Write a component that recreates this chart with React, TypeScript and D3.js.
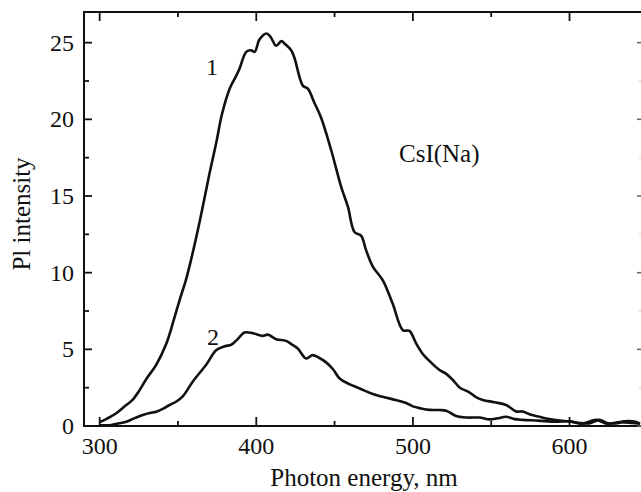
import React from 'react'
import { scaleLinear, line, curveCatmullRom } from 'd3'

// spectrum 1
const wave1 = [300, 305, 310.6, 317, 321, 325.5, 330, 336, 342.6, 347, 351, 355, 358.5, 364, 370, 374.5, 378, 383, 387, 389.3, 393.6, 396.8, 399, 402, 406.5, 409, 412.7, 416, 418.5, 422.3, 424.4, 429.7, 432.9, 437, 441.4, 447.8, 454.2, 458.5, 462.7, 467, 470, 474.4, 480.8, 487, 493.6, 497.8, 502, 506.3, 511, 517, 521.3, 525.5, 530, 536, 540, 544.6, 552, 559.5, 565.9, 570, 575, 580.8, 587, 593.6, 600, 606, 612.7, 619, 624, 629.7, 635, 642, 645]
const intensity1 = [0.25, 0.5, 0.83, 1.37, 1.7, 2.34, 3.1, 3.97, 5.38, 6.8, 8.2, 9.5, 10.9, 13.4, 16.4, 18.5, 20.3, 22.0, 22.8, 23.3, 24.4, 24.5, 24.4, 25.2, 25.6, 25.4, 24.8, 25.1, 24.9, 24.5, 24.0, 22.2, 22.0, 21.1, 20.1, 18.0, 15.6, 14.3, 12.65, 12.4, 11.5, 10.4, 9.5, 8.0, 6.25, 6.2, 5.4, 4.7, 4.2, 3.65, 3.4, 3.0, 2.5, 2.2, 1.9, 1.7, 1.55, 1.37, 0.95, 0.95, 0.75, 0.6, 0.45, 0.35, 0.3, 0.2, 0.17, 0.4, 0.2, 0.17, 0.3, 0.28, 0.15]

// spectrum 2
const wave2 = [300, 306, 311, 317, 322, 327.6, 332, 336.2, 341, 344.7, 349, 353.2, 359.5, 368, 374.5, 380, 384, 387.5, 392.5, 397.8, 404, 407.4, 412.7, 419, 423, 426.5, 431.9, 436, 440, 444.6, 449, 453.2, 459, 466, 474, 480.8, 489, 495.7, 500, 505, 510.6, 517, 521.3, 527.6, 535, 542.5, 548.9, 554, 559.5, 565, 570, 580, 591, 600, 608, 617, 624, 632, 640, 645]
const intensity2 = [0.05, 0.05, 0.15, 0.28, 0.5, 0.72, 0.85, 0.93, 1.15, 1.37, 1.6, 1.95, 2.9, 4.0, 4.95, 5.2, 5.3, 5.6, 6.1, 6.05, 5.88, 5.96, 5.66, 5.55, 5.3, 5.05, 4.4, 4.62, 4.45, 4.15, 3.7, 3.1, 2.75, 2.45, 2.1, 1.9, 1.7, 1.5, 1.28, 1.15, 1.05, 1.04, 1.0, 0.65, 0.55, 0.55, 0.43, 0.5, 0.6, 0.45, 0.4, 0.35, 0.28, 0.3, 0.15, 0.4, 0.15, 0.25, 0.2, 0.15]

const xMajor = [300, 400, 500, 600]
const xMinor = [350, 450, 550]
const yMajor = [0, 5, 10, 15, 20, 25]
const yMinor = [2.5, 7.5, 12.5, 17.5, 22.5]

const font = '"Liberation Serif", "Times New Roman", serif'

const App = () => {
  const width = 641
  const height = 492
  const left = 84
  const right = 640
  const top = 12
  const bottom = 426

  const x = scaleLinear().domain([290, 645]).range([left, right])
  const y = scaleLinear().domain([0, 27]).range([bottom, top])

  const lineGen = line<number>()
    .x(d => x(d))
    .curve(curveCatmullRom)

  const path1 = lineGen.y((_, i) => y(intensity1[i]))(wave1)
  const path2 = lineGen.y((_, i) => y(intensity2[i]))(wave2)

  return (
    <svg width={width} height={height} style={{ position: 'absolute', left: 0, top: 0, background: '#fff' }} fontFamily={font}>
      <defs>
        <clipPath id='plot'>
          <rect x={left} y={top} width={width - left} height={bottom - top} />
        </clipPath>
      </defs>

      <g clipPath='url(#plot)'>
        <path d={path1 || ''} fill='none' stroke='#111' strokeWidth={2.6} strokeLinejoin='round' />
        <path d={path2 || ''} fill='none' stroke='#111' strokeWidth={2.6} strokeLinejoin='round' />
      </g>

      {/* frame */}
      <line x1={left} x2={left} y1={top - 1} y2={bottom + 1} stroke='#111' strokeWidth={2} />
      <line x1={left - 1} x2={width} y1={bottom} y2={bottom} stroke='#111' strokeWidth={2} />
      <line x1={left - 1} x2={width} y1={top} y2={top} stroke='#111' strokeWidth={2} />

      {xMajor.map(t => (
        <g key={t} transform={`translate(${x(t)},0)`}>
          <line y1={bottom} y2={bottom - 9} stroke='#111' strokeWidth={1.8} />
          <line y1={top} y2={top + 9} stroke='#111' strokeWidth={1.8} />
          <text y={454} textAnchor='middle' fontSize={24} fill='#111'>{t}</text>
        </g>
      ))}
      {xMinor.map(t => (
        <g key={t} transform={`translate(${x(t)},0)`}>
          <line y1={bottom} y2={bottom - 5} stroke='#111' strokeWidth={1.8} />
          <line y1={top} y2={top + 5} stroke='#111' strokeWidth={1.8} />
        </g>
      ))}

      {yMajor.map(t => (
        <g key={t} transform={`translate(0,${y(t)})`}>
          <line x1={left} x2={left + 8} stroke='#111' strokeWidth={1.8} />
          <line x1={right - 3} x2={width} stroke='#666' strokeWidth={1.5} />
          <text x={74} y={8} textAnchor='end' fontSize={24} fill='#111'>{t}</text>
        </g>
      ))}
      {yMinor.map(t => (
        <g key={t} transform={`translate(0,${y(t)})`}>
          <line x1={left} x2={left + 5} stroke='#111' strokeWidth={1.8} />
          <line x1={right - 1} x2={width} stroke='#ddd' strokeWidth={1.5} />
        </g>
      ))}

      <text x={364} y={486} textAnchor='middle' fontSize={25} fill='#111'>Photon energy, nm</text>
      <text transform='translate(30,214) rotate(-90)' textAnchor='middle' fontSize={25} fill='#111'>Pl intensity</text>

      <text x={212} y={75} textAnchor='middle' fontSize={24} fill='#111'>1</text>
      <text x={213} y={345} textAnchor='middle' fontSize={24} fill='#111'>2</text>
      <text x={399} y={162} fontSize={25} fill='#111'>CsI(Na)</text>
    </svg>
  )
}

export default App
